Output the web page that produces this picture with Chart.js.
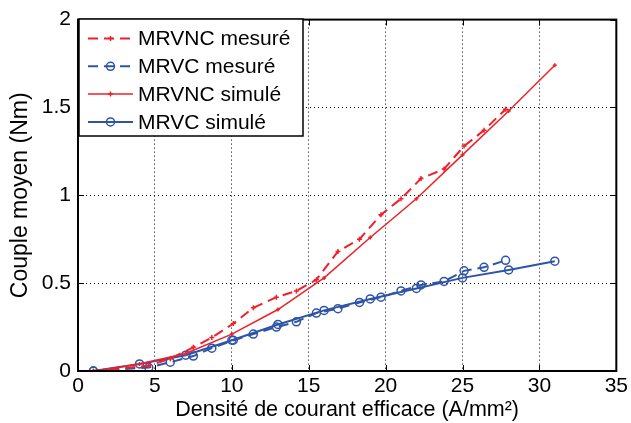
<!DOCTYPE html>
<html>
<head>
<meta charset="utf-8">
<script src="https://cdn.jsdelivr.net/npm/chart.js@4/dist/chart.umd.min.js"></script>
<style>
  html, body { margin: 0; padding: 0; background: #fff; }
  #wrap { width: 631px; height: 423px; }
</style>
</head>
<body>
<div id="wrap"><canvas id="graphe"></canvas></div>
<script>
// abscisses (densité de courant, A/mm²)
const xMesure = [1, 4.6, 6.0, 7.5, 8.7, 10.1, 11.4, 12.9, 14.2, 15.5, 16.9, 18.3, 19.7, 21.0, 22.3, 23.8, 25.1, 26.4, 27.8];
const xSimule = [1, 4, 7, 10, 13, 16, 19, 22, 25, 28, 31];

// couple moyen (Nm)
const mrvncMesure = [0, 0.03, 0.07, 0.135, 0.19, 0.27, 0.36, 0.42, 0.456, 0.52, 0.68, 0.75, 0.89, 0.98, 1.095, 1.15, 1.28, 1.37, 1.49];
const mrvcMesure = [0, 0.02, 0.05, 0.085, 0.13, 0.175, 0.21, 0.25, 0.28, 0.33, 0.355, 0.39, 0.42, 0.456, 0.49, 0.51, 0.57, 0.59, 0.63];
const mrvncSimule = [0, 0.04, 0.1, 0.21, 0.35, 0.53, 0.76, 0.98, 1.23, 1.48, 1.74];
const mrvcSimule = [0, 0.04, 0.09, 0.175, 0.265, 0.345, 0.41, 0.47, 0.53, 0.575, 0.625];

const xTicks = [0, 5, 10, 15, 20, 25, 30, 35];
const yTicks = [0, 0.5, 1, 1.5, 2];

const ROUGE = "rgb(240,32,40)";
const BLEU = "rgb(46,84,168)";
const POLICE = "'Liberation Sans', Arial, sans-serif";

function pts(xs, ys) {
  return xs.map((x, i) => ({ x: x, y: ys[i] }));
}

const series = [
  { label: "MRVNC mesuré", data: pts(xMesure, mrvncMesure), borderColor: ROUGE, backgroundColor: ROUGE,
    borderDash: [10, 6], borderWidth: 2, pointStyle: "cross", pointRadius: 2.5, pointBorderWidth: 1.5 },
  { label: "MRVC mesuré", data: pts(xMesure, mrvcMesure), borderColor: BLEU, backgroundColor: "rgba(0,0,0,0)",
    borderDash: [10, 6], borderWidth: 2, pointStyle: "circle", pointRadius: 4, pointBorderWidth: 1.5 },
  { label: "MRVNC simulé", data: pts(xSimule, mrvncSimule), borderColor: ROUGE, backgroundColor: ROUGE,
    borderWidth: 1.5, pointStyle: "cross", pointRadius: 2, pointBorderWidth: 1.5 },
  { label: "MRVC simulé", data: pts(xSimule, mrvcSimule), borderColor: BLEU, backgroundColor: "rgba(0,0,0,0)",
    borderWidth: 2, pointStyle: "circle", pointRadius: 4, pointBorderWidth: 1.5 }
];

// cadre noir + petits traits de graduation vers l'intérieur, légende encadrée
const cadre = {
  id: "cadre",
  afterDraw(chart) {
    const ctx = chart.ctx;
    const a = chart.chartArea;
    const sx = chart.scales.x, sy = chart.scales.y;
    ctx.save();
    ctx.strokeStyle = "#000";
    ctx.lineWidth = 1;
    xTicks.forEach(v => {
      const px = Math.round(sx.getPixelForValue(v)) + 0.5;
      ctx.beginPath();
      ctx.moveTo(px, a.bottom); ctx.lineTo(px, a.bottom - 6);
      ctx.moveTo(px, a.top); ctx.lineTo(px, a.top + 6);
      ctx.stroke();
    });
    yTicks.forEach(v => {
      const py = Math.round(sy.getPixelForValue(v)) + 0.5;
      ctx.beginPath();
      ctx.moveTo(a.left, py); ctx.lineTo(a.left + 6, py);
      ctx.moveTo(a.right, py); ctx.lineTo(a.right - 6, py);
      ctx.stroke();
    });
    ctx.lineWidth = 2;
    ctx.strokeRect(a.left, a.top, a.right - a.left, a.bottom - a.top);

    // légende
    const lx = a.left + 1, ly = 19, lw = 224, lh = 117;
    ctx.fillStyle = "#fff";
    ctx.fillRect(lx, ly, lw, lh);
    ctx.lineWidth = 1.5;
    ctx.strokeRect(lx, ly, lw, lh);
    ctx.font = "21px " + POLICE;
    ctx.textBaseline = "middle";
    ctx.textAlign = "left";
    series.forEach((s, i) => {
      const yy = 38.5 + i * 27.8;
      const x1 = 88, x2 = 133;
      ctx.strokeStyle = s.borderColor;
      ctx.lineWidth = s.borderWidth;
      ctx.setLineDash(s.borderDash || []);
      ctx.beginPath();
      ctx.moveTo(x1, yy); ctx.lineTo(x2, yy);
      ctx.stroke();
      ctx.setLineDash([]);
      const mx = (x1 + x2) / 2;
      ctx.lineWidth = 1.5;
      ctx.beginPath();
      if (s.pointStyle === "circle") {
        ctx.arc(mx, yy, 4, 0, Math.PI * 2);
      } else {
        ctx.moveTo(mx - 2.5, yy); ctx.lineTo(mx + 2.5, yy);
        ctx.moveTo(mx, yy - 2.5); ctx.lineTo(mx, yy + 2.5);
      }
      ctx.stroke();
      ctx.fillStyle = "#000";
      ctx.fillText(s.label, 138, yy + 1);
    });
    ctx.restore();
  }
};

new Chart(document.getElementById("graphe"), {
  type: "line",
  data: { datasets: series },
  options: {
    responsive: true,
    maintainAspectRatio: false,
    animation: false,
    layout: { padding: { top: 16, right: 14, left: 0, bottom: 0 } },
    plugins: { legend: { display: false }, tooltip: { enabled: false } },
    elements: { line: { tension: 0 } },
    scales: {
      x: {
        type: "linear", min: 0, max: 35,
        afterBuildTicks: ax => { ax.ticks = xTicks.map(v => ({ value: v })); },
        afterFit: ax => { ax.height = 52; },
        grid: { color: "#000", lineWidth: 1, drawTicks: false },
        border: { display: false, dash: [1, 3] },
        ticks: { color: "#000", font: { size: 21, family: POLICE }, padding: 3, maxRotation: 0,
                 callback: v => String(v) },
        title: { display: true, text: "Densité de courant efficace (A/mm²)", color: "#000",
                 font: { size: 21.5, family: POLICE }, padding: { top: 0, bottom: 0 } }
      },
      y: {
        type: "linear", min: 0, max: 2,
        afterBuildTicks: ax => { ax.ticks = yTicks.map(v => ({ value: v })); },
        afterFit: ax => { ax.width = 78; },
        grid: { color: "#000", lineWidth: 1, drawTicks: false },
        border: { display: false, dash: [1, 3] },
        ticks: { color: "#000", font: { size: 21, family: POLICE }, padding: 7,
                 callback: v => String(v) },
        title: { display: true, text: "Couple moyen (Nm)", color: "#000",
                 font: { size: 23, family: POLICE }, padding: { top: 7, bottom: 0 } }
      }
    }
  },
  plugins: [cadre]
});
</script>
</body>
</html>
